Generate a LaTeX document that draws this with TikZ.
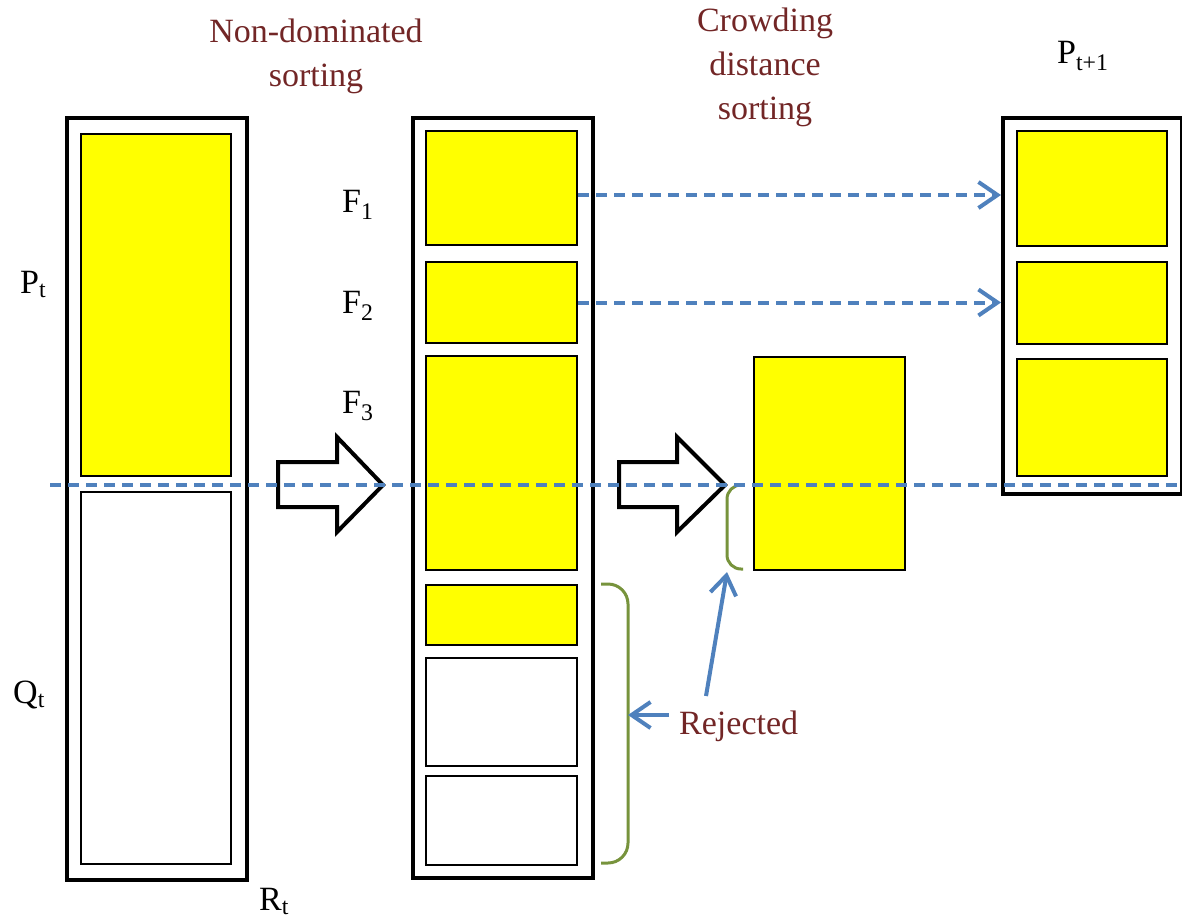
\documentclass[tikz,border=0pt]{standalone}
\usepackage{fontspec}
\setmainfont{Liberation Serif}
\usetikzlibrary{arrows.meta}
\definecolor{flowblue}{RGB}{79,129,189}
\definecolor{bracegreen}{RGB}{119,147,60}
\definecolor{labelred}{RGB}{114,38,38}
\definecolor{frontyellow}{RGB}{255,255,0}
\newcommand\sub[1]{\textsubscript{#1}}

\begin{document}
\begin{tikzpicture}[x=1pt,y=-1pt,
  pool/.style={draw=black, line width=4pt, anchor=north west, inner sep=0pt, fill=white},
  front/.style={draw=black, line width=2pt, fill=frontyellow, anchor=north west, inner sep=0pt},
  rest/.style={draw=black, line width=2pt, fill=white, anchor=north west, inner sep=0pt},
  lbl/.style={font=\fontsize{34}{44}\selectfont, inner sep=0pt},
  note/.style={lbl, text=labelred, align=center},
  bigarrow/.style={draw=black, line width=4pt, line join=miter, fill=none},
  flow/.style={draw=flowblue, line width=4pt, -{Straight Barb[length=19pt,width=26pt]}},
  moveflow/.style={flow, dash pattern=on 11pt off 7pt},
  cut/.style={draw=flowblue, line width=3.5pt, dash pattern=on 11pt off 7pt},
  bracket/.style={draw=bracegreen, line width=3pt},
]
\useasboundingbox (0,0) rectangle (1182,918);

% combined population R_t = P_t + Q_t
\node[pool, minimum width=180pt, minimum height=762pt] (Rt) at (65,116) {};
\node[front, minimum width=150pt, minimum height=342pt] (Pt) at (80,133) {};
\node[rest, minimum width=150pt, minimum height=372pt] (Qt) at (80,491) {};

% fronts after non-dominated sorting
\node[pool, minimum width=180pt, minimum height=760pt] (Fs) at (411,116) {};
\node[front, minimum width=151pt, minimum height=114pt] (F1) at (425,130) {};
\node[front, minimum width=151pt, minimum height=81pt] (F2) at (425,261) {};
\node[front, minimum width=151pt, minimum height=214pt] (F3) at (425,355) {};
\node[front, minimum width=151pt, minimum height=60pt] (F4) at (425,584) {};
\node[rest, minimum width=151pt, minimum height=108pt] (F5) at (425,657) {};
\node[rest, minimum width=151pt, minimum height=89pt] (F6) at (425,775) {};

% F3 sorted by crowding distance
\node[front, minimum width=151pt, minimum height=213pt] (F3s) at (753,356) {};

% next population
\node[pool, minimum width=179pt, minimum height=376pt] (Pn) at (1001,116) {};
\node[front, minimum width=150pt, minimum height=115pt] (N1) at (1016,130) {};
\node[front, minimum width=150pt, minimum height=82pt] (N2) at (1016,261) {};
\node[front, minimum width=150pt, minimum height=117pt] (N3) at (1016,358) {};

% labels
\node[lbl, anchor=base west] (lPt) at (20,293) {P\sub{t}};
\node[lbl, anchor=base west] (lQt) at (13,703) {Q\sub{t}};
\node[lbl, anchor=base west] (lRt) at (259,910) {R\sub{t}};
\node[lbl, anchor=base west] (lF1) at (342,212) {F\sub{1}};
\node[lbl, anchor=base west] (lF2) at (342,313) {F\sub{2}};
\node[lbl, anchor=base west] (lF3) at (342,413) {F\sub{3}};
\node[lbl, anchor=base west] (lPn) at (1057,63) {P\sub{t+1}};
\node[note, anchor=north] (nds) at (316,19) {Non-dominated\\sorting};
\node[note, anchor=north] (cds) at (765,8) {Crowding\\distance\\sorting};
\node[note, anchor=base west] (rej) at (679,734) {Rejected};

% block arrows between the stages
\draw[bigarrow] (278,462) -- (337,462) -- (337,437) -- (383,485) -- (337,532) -- (337,507) -- (278,507) -- cycle;
\draw[bigarrow] (619,462) -- (677,462) -- (677,437) -- (725,485) -- (677,532) -- (677,507) -- (619,507) -- cycle;

% fronts carried over whole
\coordinate (a1) at ([yshift=-7pt]F1.east);
\coordinate (a2) at (F2.east);
\draw[moveflow] (a1) -- (a1 -| Pn.west);
\draw[moveflow] (a2) -- (a2 -| Pn.west);

% brackets for the rejected members
\coordinate (sTop) at (743,485);
\coordinate (sBot) at (743,569);
\coordinate (sTip) at (727,572);
\draw[bracket, rounded corners=14pt] (sTop) -- (727,485) -- (727,569) -- (sBot);
\coordinate (bTop) at (601,584);
\coordinate (bBot) at (601,863);
\coordinate (bMid) at (628,715);
\draw[bracket, rounded corners=20pt] (bTop) -- (628,584) -- (628,863) -- (bBot);

\draw[flow] ([xshift=-10pt,yshift=19pt]rej.base west) -- (bMid);
\draw[flow] ([xshift=27pt,yshift=38pt]rej.base west) -- (sTip);

% population size cut
\coordinate (cutL) at (50,485);
\coordinate (cutR) at (1182,485);
\draw[cut] (cutL) -- (cutR);
\end{tikzpicture}
\end{document}
